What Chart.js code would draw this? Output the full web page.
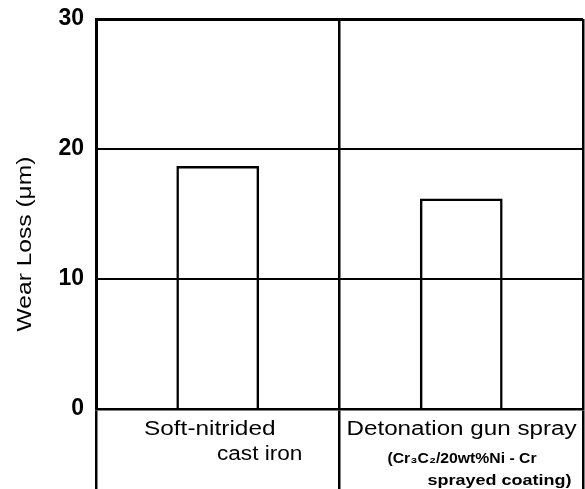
<!DOCTYPE html>
<html>
<head>
<meta charset="utf-8">
<script src="https://cdn.jsdelivr.net/npm/chart.js@4/dist/chart.umd.min.js"></script>
<style>
  body { margin: 0; background: #fff; }
  #wrap { width: 585px; height: 489px; }
</style>
</head>
<body>
<div id="wrap"><canvas id="grafico" width="585" height="489"></canvas></div>
<script>
// datos
var categorias = ['Soft-nitrided cast iron', 'Detonation gun spray'];
var perdidaDesgaste = [18.7, 16.2];
var marcasY = [0, 10, 20, 30];
var tituloY = 'Wear Loss (\u03bcm)';

// texto de las categorias, linea por linea
var lineasCat1 = ['Soft-nitrided', 'cast iron'];
var lineasCat2 = ['Detonation gun spray', '(Cr\u2083C\u2082/20wt%Ni - Cr', 'sprayed coating)'];

var fuente = '"Liberation Sans", Arial, sans-serif';

// dibuja texto estirado en horizontal, como en la figura escaneada
function textoAncho(ctx, texto, x, y, estiro, font) {
    ctx.save();
    ctx.font = font;
    ctx.translate(x, y);
    ctx.scale(estiro, 1);
    ctx.fillText(texto, 0, 0);
    ctx.restore();
}

var etiquetasPlugin = {
    id: 'etiquetas',
    afterDraw: function (chart) {
        var ctx = chart.ctx;
        var x = chart.scales.x;
        var area = chart.chartArea;
        var medio = (x.getPixelForValue(1) - x.getPixelForValue(0)) / 2;
        ctx.save();
        ctx.fillStyle = '#000';
        ctx.textAlign = 'left';
        ctx.textBaseline = 'alphabetic';

        // categoria 1
        var ini1 = x.getPixelForValue(0) - medio;
        textoAncho(ctx, lineasCat1[0], ini1 + 48, area.bottom + 26, 1.22, '20px ' + fuente);
        textoAncho(ctx, lineasCat1[1], ini1 + 121, area.bottom + 51, 1.13, '20px ' + fuente);

        // categoria 2
        var ini2 = x.getPixelForValue(1) - medio;
        textoAncho(ctx, lineasCat2[0], ini2 + 7, area.bottom + 26, 1.21, '20px ' + fuente);
        textoAncho(ctx, lineasCat2[1], ini2 + 48, area.bottom + 54, 1.05, 'bold 15px ' + fuente);
        textoAncho(ctx, lineasCat2[2], ini2 + 88, area.bottom + 76, 1.2, 'bold 15px ' + fuente);

        // titulo del eje y
        ctx.save();
        ctx.translate(31, 244);
        ctx.rotate(-Math.PI / 2);
        ctx.textAlign = 'center';
        ctx.scale(1.17, 1);
        ctx.font = '21px ' + fuente;
        ctx.fillText(tituloY, 0, 0);
        ctx.restore();

        ctx.restore();
    }
};

var ctx = document.getElementById('grafico').getContext('2d');
var grafico = new Chart(ctx, {
    type: 'bar',
    data: {
        labels: categorias,
        datasets: [{
            label: 'Wear Loss',
            data: perdidaDesgaste,
            backgroundColor: 'rgba(0,0,0,0)',
            borderColor: '#000',
            borderWidth: 2.5,
            borderSkipped: 'bottom',
            categoryPercentage: 1,
            barPercentage: 0.34
        }]
    },
    options: {
        responsive: false,
        animation: false,
        layout: { padding: { top: 19, right: 2, left: 0, bottom: 0 } },
        plugins: {
            legend: { display: false },
            tooltip: { enabled: false }
        },
        scales: {
            x: {
                offset: true,
                afterFit: function (scale) { scale.height = 80; },
                grid: {
                    offset: true,
                    color: '#000',
                    lineWidth: 2.5,
                    tickLength: 80,
                    drawTicks: true
                },
                border: { display: true, color: '#000', width: 2.5 },
                ticks: { display: false }
            },
            y: {
                min: 0,
                max: 30,
                afterFit: function (scale) {
                    scale.width = 96;
                    scale.paddingTop = 0;
                    scale.paddingBottom = 0;
                },
                afterBuildTicks: function (scale) {
                    scale.ticks = marcasY.map(function (v) { return { value: v }; });
                },
                grid: {
                    color: '#000',
                    lineWidth: function (c) { return c.tick && c.tick.value === 30 ? 3 : 2; },
                    drawTicks: false
                },
                border: { display: true, color: '#000', width: 3 },
                ticks: {
                    color: '#000',
                    padding: 12,
                    font: { family: fuente, size: 23, weight: 'bold' }
                }
            }
        }
    },
    plugins: [etiquetasPlugin]
});
</script>
</body>
</html>
